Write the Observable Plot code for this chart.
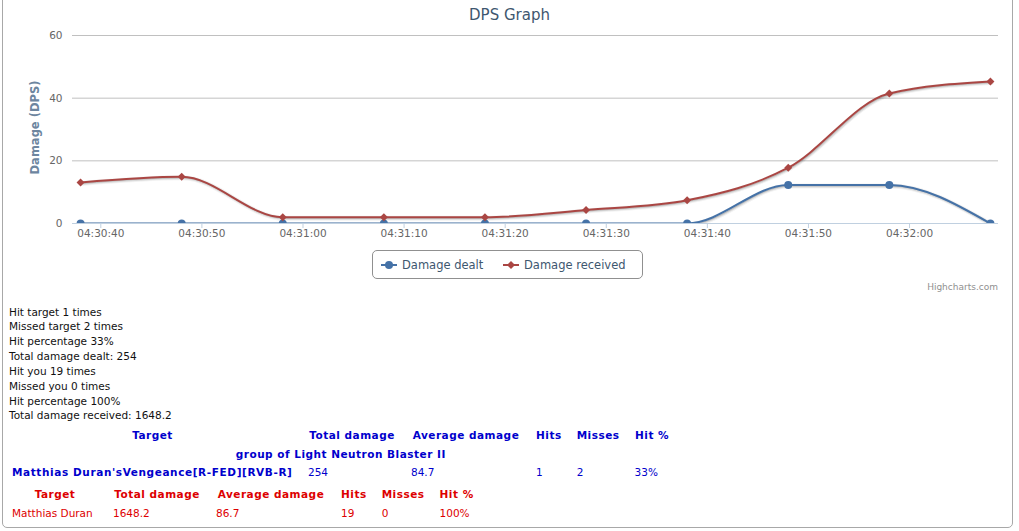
<!DOCTYPE html>
<html><head><meta charset="utf-8">
<script src="https://cdn.jsdelivr.net/npm/d3@7"></script>
<script src="https://cdn.jsdelivr.net/npm/@observablehq/plot@0.6"></script>
<style>
body{margin:0;background:#fff;font-family:"DejaVu Sans",Verdana,sans-serif;}
#frame{position:absolute;left:2px;top:-10px;width:1011px;height:538px;border:1px solid #a8a8a8;border-radius:5px;box-sizing:border-box;}
#title{position:absolute;left:0;top:0;width:1019px;height:28px;text-align:center;font-size:15px;color:#3E576F;line-height:30px;}
#chart{position:absolute;left:0;top:28px;}
#legend{position:absolute;left:372px;top:250px;width:271px;height:29px;border:1px solid #909090;border-radius:5px;box-sizing:border-box;font-size:11.5px;color:#3E576F;}
#legend .sym{position:absolute;top:7px;}
#legend .lab{position:absolute;top:6px;line-height:16px;white-space:nowrap;}
#credit{position:absolute;right:21px;top:281px;font-size:9px;color:#909090;line-height:12px;}
#stats{position:absolute;left:9px;top:304.5px;font-size:10.5px;line-height:14.85px;color:#111;white-space:nowrap;}
table{position:absolute;table-layout:fixed;border-collapse:separate;font-size:10.5px;white-space:nowrap;}
td,th{padding:0;overflow:visible;}
th{text-align:center;font-weight:bold;letter-spacing:0.5px;}
td{text-align:left;}
#t1{left:-3px;top:425px;border-spacing:15px 3px;color:#0000cc;}
#t1 td,#t1 th{line-height:15.5px;}
#t1 td.b{font-weight:bold;letter-spacing:0.6px;}
#t2{left:-3px;top:483px;border-spacing:15px 3px;color:#dd0000;}
#t2 td,#t2 th{line-height:16px;}
</style></head>
<body>
<div id="frame"></div>
<div id="title">DPS Graph</div>
<div id="chart"></div>
<div id="legend">
  <svg class="sym" style="left:8px" width="16" height="14"><line x1="0" x2="16" y1="7" y2="7" stroke="#4572A7" stroke-width="2"/><circle cx="8" cy="7" r="4" fill="#4572A7"/></svg>
  <div class="lab" style="left:29px">Damage dealt</div>
  <svg class="sym" style="left:130px" width="16" height="14"><line x1="0" x2="16" y1="7" y2="7" stroke="#AA4643" stroke-width="2"/><path d="M8,3L12,7L8,11L4,7Z" fill="#AA4643"/></svg>
  <div class="lab" style="left:151px">Damage received</div>
</div>
<div id="credit">Highcharts.com</div>
<div id="stats">
Hit target 1 times<br>Missed target 2 times<br>Hit percentage 33%<br>Total damage dealt: 254<br>Hit you 19 times<br>Missed you 0 times<br>Hit percentage 100%<br>Total damage received: 1648.2
</div>
<table id="t1">
<colgroup><col style="width:281px"><col style="width:88px"><col style="width:110px"><col style="width:24px"><col style="width:42px"><col style="width:35px"></colgroup>
<tr><th>Target</th><th>Total damage</th><th>Average damage</th><th>Hits</th><th>Misses</th><th>Hit %</th></tr>
<tr><th colspan="6">group of Light Neutron Blaster II</th></tr>
<tr><td class="b">Matthias Duran'sVengeance[R-FED][RVB-R]</td><td>254</td><td>84.7</td><td>1</td><td>2</td><td>33%</td></tr>
</table>
<table id="t2">
<colgroup><col style="width:86px"><col style="width:88px"><col style="width:110px"><col style="width:24px"><col style="width:42px"><col style="width:34px"></colgroup>
<tr><th>Target</th><th>Total damage</th><th>Average damage</th><th>Hits</th><th>Misses</th><th>Hit %</th></tr>
<tr><td>Matthias Duran</td><td>1648.2</td><td>86.7</td><td>19</td><td>0</td><td>100%</td></tr>
</table>
<script>
// data
const times = ["04:30:38","04:30:48","04:30:58","04:31:08","04:31:18","04:31:28","04:31:38","04:31:48","04:31:58","04:32:08"];
const dealt = [0, 0, 0, 0, 0, 0, 0, 12.3, 12.3, 0];
const received = [13.1, 14.9, 2.0, 2.0, 2.0, 4.3, 7.4, 17.8, 41.5, 45.3];
const yTicks = [0, 20, 40, 60];
const xDomain = ["04:30:37.200", "04:32:08.800"];
const yTitle = "Damage (DPS)";

const parse = d3.utcParse("%H:%M:%S");
const parseMs = d3.utcParse("%H:%M:%S.%L");
const data = times.map((t, i) => ({t: parse(t), dealt: dealt[i], received: received[i]}));

const shadow = (y) => [5, 3, 1].map((w, i) => Plot.line(data, {
  x: "t", y, curve: "monotone-x", stroke: "black", strokeOpacity: 0.05 * (i + 1),
  strokeWidth: w, dx: 1, dy: 1, clip: true
}));

const chart = Plot.plot({
  width: 1019,
  height: 217,
  marginLeft: 72,
  marginRight: 21,
  marginTop: 7,
  marginBottom: 22,
  style: {fontFamily: "'DejaVu Sans', Verdana, sans-serif", fontSize: "10.5px", background: "transparent"},
  x: {type: "utc", domain: xDomain.map(parseMs)},
  y: {domain: [0, 60]},
  marks: [
    Plot.ruleY(yTicks.slice(1), {stroke: "#C0C0C0", strokeWidth: 1}),
    Plot.ruleY([0], {stroke: "#C0D0E0", strokeWidth: 1}),
    Plot.axisX({ticks: d3.utcSecond.every(10), tickFormat: d3.utcFormat("%H:%M:%S"),
      tickSize: 5, tickPadding: 1, stroke: "#C0D0E0", fill: "#666", fontSize: 10.5, label: null}),
    Plot.axisY({ticks: yTicks, tickSize: 0, tickPadding: 10, fill: "#666", fontSize: 10.5, label: null}),
    Plot.text([yTitle], {frameAnchor: "left", textAnchor: "middle", rotate: -90, dx: -37, dy: -2,
      fill: "#6D869F", fontWeight: "bold", fontSize: 11.5}),
    ...shadow("dealt"),
    Plot.line(data, {x: "t", y: "dealt", curve: "monotone-x", stroke: "#4572A7", strokeWidth: 2, clip: true}),
    Plot.dot(data, {x: "t", y: "dealt", symbol: "circle", r: 4, fill: "#4572A7", clip: true}),
    ...shadow("received"),
    Plot.line(data, {x: "t", y: "received", curve: "monotone-x", stroke: "#AA4643", strokeWidth: 2, clip: true}),
    Plot.dot(data, {x: "t", y: "received", symbol: "diamond2", r: 3.6, fill: "#AA4643", clip: true})
  ]
});
document.getElementById("chart").appendChild(chart);
</script>
</body></html>
